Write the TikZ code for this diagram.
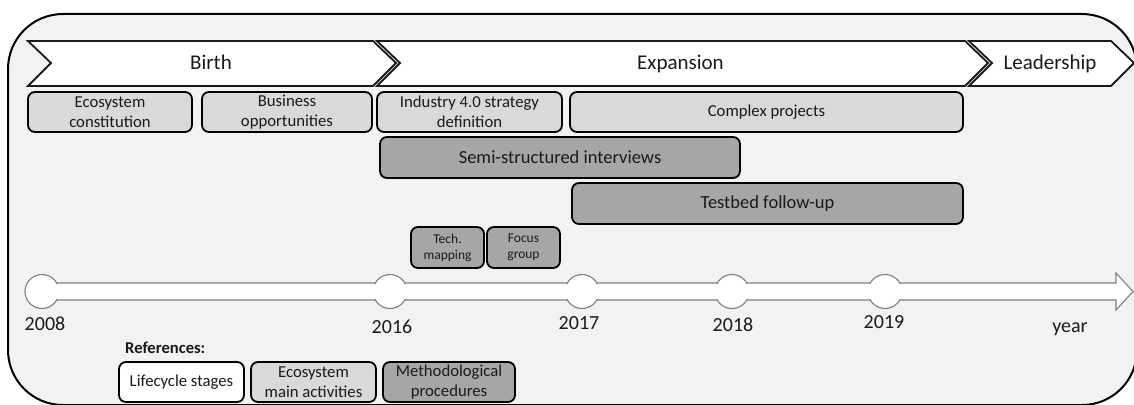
\documentclass[tikz,border=0pt]{standalone}
\usepackage{fontspec}
\setmainfont{Carlito}
\definecolor{panel}{HTML}{F2F2F2}
\definecolor{actfill}{HTML}{D9D9D9}
\definecolor{methfill}{HTML}{A6A6A6}
\definecolor{axisline}{HTML}{7F7F7F}
\definecolor{ink}{HTML}{1A1A1A}
\tikzset{
  stage/.style={draw=ink, fill=white, line width=1.8pt, line join=miter},
  stagetext/.style={font=\fontsize{21}{24}\selectfont, text=ink, anchor=base, inner sep=0pt},
  box/.style={draw=black, line width=1.8pt, rounded corners=7pt, inner sep=0pt,
              outer sep=0pt, align=center, text=ink},
  actbox/.style={box, fill=actfill, font=\fontsize{16.7}{20}\selectfont},
  methbox/.style={box, fill=methfill, font=\fontsize{18.5}{22}\selectfont},
  smallmeth/.style={box, fill=methfill, font=\fontsize{13.5}{16}\selectfont},
  keybox/.style={box, font=\fontsize{16.7}{20}\selectfont},
  milestone/.style={circle, draw=axisline, fill=white, line width=1.1pt,
                    minimum size=34pt, inner sep=0pt},
  yearlabel/.style={font=\fontsize{20}{24}\selectfont, text=ink, anchor=base, inner sep=0pt},
}
\begin{document}
\begin{tikzpicture}[x=1pt,y=-1pt]
\useasboundingbox (0,0) rectangle (1134,404);
\fill[white] (0,0) rectangle (1134,404);
\clip (0,0) rectangle (1134,404);

% panel
\draw[line width=2pt, fill=panel, rounded corners=55pt] (8,14) rectangle (1137,405);

% lifecycle stages
\draw[stage] (28,41) -- (373,41) -- (396,63) -- (373,86) -- (28,86) -- (51,63) -- cycle;
\draw[stage] (377,41) -- (965,41) -- (988,63) -- (965,86) -- (377,86) -- (400,63) -- cycle;
\draw[stage] (969,41) -- (1111,41) -- (1134,63) -- (1111,86) -- (969,86) -- (992,63) -- cycle;
\node[stagetext] (birth) at (211,70) {Birth};
\node[stagetext] (expansion) at (680.5,70) {Expansion};
\node[stagetext] (leadership) at (1050,70) {Leadership};

% ecosystem main activities
\node[actbox, minimum width=164pt, minimum height=40pt] (eco) at (110,112) {Ecosystem\\constitution};
\node[actbox, minimum width=170pt, minimum height=40pt] (bus) at (287,112) {Business\\opportunities};
\node[actbox, minimum width=185pt, minimum height=40pt] (ind) at (469.5,112) {Industry 4.0 strategy\\definition};
\node[actbox, minimum width=393pt, minimum height=40pt] (cpx) at (766.5,112) {Complex projects};

% methodological procedures
\node[methbox, minimum width=360pt, minimum height=41pt] (semi) at (560,157.5) {Semi-structured interviews};
\node[methbox, minimum width=391pt, minimum height=41pt] (test) at (767.5,203.5) {Testbed follow-up};
\node[smallmeth, minimum width=73pt, minimum height=41pt] (tech) at (447.5,247.5) {Tech.\\mapping};
\node[smallmeth, minimum width=73pt, minimum height=41pt] (focus) at (523.5,247.5) {Focus\\group};

% time axis
\draw[axisline, fill=white, line width=1.1pt, line join=miter]
  (42,283) -- (1116,283) -- (1116,273) -- (1133,291.5) -- (1116,310) -- (1116,300) -- (42,300) -- cycle;
\node[milestone] (m2008) at (42,291.5) {};
\node[milestone] (m2016) at (390,291.5) {};
\node[milestone] (m2017) at (582,291.5) {};
\node[milestone] (m2018) at (732,291.5) {};
\node[milestone] (m2019) at (885,291.5) {};
\fill[white] (42,283.7) rectangle (1115,299.3);

\node[yearlabel] (y2008) at (45,330.5) {2008};
\node[yearlabel] (y2016) at (392,333.5) {2016};
\node[yearlabel] (y2017) at (579,329.5) {2017};
\node[yearlabel] (y2018) at (733,331.5) {2018};
\node[yearlabel] (y2019) at (884,328.5) {2019};
\node[yearlabel] (yr) at (1070,332) {year};

% key
\node[font=\fontsize{16.6}{20}\selectfont\bfseries, text=ink, anchor=base west, inner sep=0pt] (refs) at (125,353) {References:};
\node[keybox, fill=white, minimum width=125pt, minimum height=40pt] (k1) at (181.5,382) {Lifecycle stages};
\node[keybox, fill=actfill, minimum width=125pt, minimum height=40pt] (k2) at (313.5,382) {Ecosystem\\main activities};
\node[keybox, fill=methfill, minimum width=132pt, minimum height=40pt] (k3) at (449,382) {Methodological\\procedures};
\end{tikzpicture}
\end{document}
